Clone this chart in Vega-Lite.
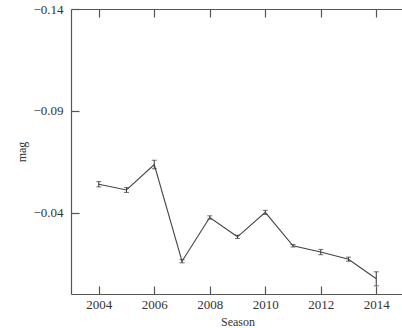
{
  "$schema": "https://vega.github.io/schema/vega-lite/v6.json",
  "width": 333,
  "height": 285,
  "autosize": "none",
  "padding": {"left": 71, "top": 9, "right": 0, "bottom": 34},
  "background": "white",
  "config": {
    "view": {"stroke": null},
    "font": "Liberation Serif",
    "axis": {
      "grid": false,
      "domainColor": "#555555",
      "tickColor": "#555555",
      "labelColor": "#333333",
      "titleColor": "#333333",
      "labelFont": "Liberation Serif",
      "titleFont": "Liberation Serif",
      "labelFontSize": 13,
      "titleFontSize": 12,
      "titleFontWeight": "normal",
      "tickSize": -8,
      "domainWidth": 1.2,
      "tickWidth": 1.2
    }
  },
  "data": {
    "values": [
      {"season": 2004, "mag": -0.0539, "lo": -0.0552, "hi": -0.0526},
      {"season": 2005, "mag": -0.0511, "lo": -0.0523, "hi": -0.0499},
      {"season": 2006, "mag": -0.0636, "lo": -0.0657, "hi": -0.0615},
      {"season": 2007, "mag": -0.0161, "lo": -0.0169, "hi": -0.0153},
      {"season": 2008, "mag": -0.0376, "lo": -0.0384, "hi": -0.0368},
      {"season": 2009, "mag": -0.0281, "lo": -0.0289, "hi": -0.0273},
      {"season": 2010, "mag": -0.0401, "lo": -0.0411, "hi": -0.0391},
      {"season": 2011, "mag": -0.0237, "lo": -0.0243, "hi": -0.0231},
      {"season": 2012, "mag": -0.0206, "lo": -0.0219, "hi": -0.0193},
      {"season": 2013, "mag": -0.0171, "lo": -0.0181, "hi": -0.0161},
      {"season": 2014, "mag": -0.0075, "lo": -0.0109, "hi": -0.0040}
    ]
  },
  "resolve": {"axis": {"x": "independent"}},
  "layer": [
    {
      "mark": {"type": "rule", "color": "#333333", "strokeWidth": 1},
      "encoding": {
        "x": {
          "field": "season",
          "type": "quantitative",
          "scale": {"domain": [2003, 2015], "nice": false, "zero": false},
          "axis": {
            "title": "Season",
            "values": [2004, 2006, 2008, 2010, 2012, 2014],
            "format": "d",
            "labelPadding": 12,
            "titlePadding": 5
          }
        },
        "y": {"field": "lo", "type": "quantitative",
          "scale": {"domain": [-0.14, 0], "reverse": true, "nice": false, "zero": false},
          "axis": {
            "title": "mag",
            "values": [-0.14, -0.09, -0.04],
            "format": ".2f",
            "labelPadding": 16,
            "titlePadding": 4
          }},
        "y2": {"field": "hi"}
      }
    },
    {
      "mark": {"type": "tick", "orient": "horizontal", "color": "#333333", "size": 5, "thickness": 1},
      "encoding": {
        "x": {"field": "season", "type": "quantitative", "axis": null},
        "y": {"field": "lo", "type": "quantitative"}
      }
    },
    {
      "mark": {"type": "tick", "orient": "horizontal", "color": "#333333", "size": 5, "thickness": 1},
      "encoding": {
        "x": {"field": "season", "type": "quantitative", "axis": null},
        "y": {"field": "hi", "type": "quantitative"}
      }
    },
    {
      "mark": {"type": "line", "color": "#444444", "strokeWidth": 1.1},
      "encoding": {
        "x": {
          "field": "season",
          "type": "quantitative",
          "axis": {
            "orient": "top",
            "title": null,
            "labels": false,
            "values": [2004, 2006, 2008, 2010, 2012, 2014]
          }
        },
        "y": {"field": "mag", "type": "quantitative"}
      }
    }
  ]
}
